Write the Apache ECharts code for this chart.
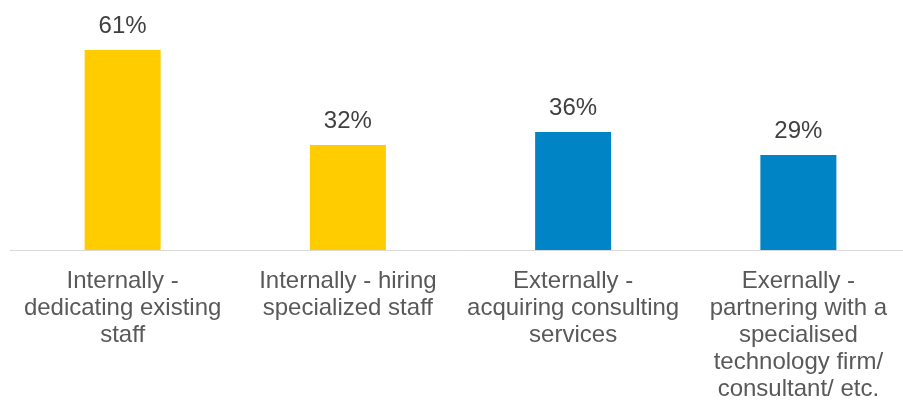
<!DOCTYPE html>
<html>
<head>
<meta charset="utf-8">
<script src="https://cdn.jsdelivr.net/npm/echarts@6/dist/echarts.min.js"></script>
<style>
  html, body { margin: 0; padding: 0; background: #ffffff; }
  #chart { width: 903px; height: 405px; }
</style>
</head>
<body>
<div id="chart"></div>
<script>
// Survey categories (line breaks as shown under each bar)
const categories = [
  'Internally -\ndedicating existing\nstaff',
  'Internally - hiring\nspecialized staff',
  'Externally -\nacquiring consulting\nservices',
  'Exernally -\npartnering with a\nspecialised\ntechnology firm/\nconsultant/ etc.'
];
// Share of respondents, percent
const values = [61, 32, 36, 29];
// Internal options in yellow, external in blue
const barColors = ['#FFCC00', '#FFCC00', '#0084C6', '#0084C6'];

const chart = echarts.init(document.getElementById('chart'));
chart.setOption({
  animation: false,
  grid: {
    left: 10, top: 20.5, width: 901, height: 229.5,
    containLabel: false,
    outerBoundsMode: 'none'
  },
  xAxis: {
    type: 'category',
    data: categories,
    axisLine: { show: true, lineStyle: { color: '#D9D9D9', width: 1 } },
    axisTick: { show: false },
    axisLabel: {
      interval: 0,
      color: '#595959',
      fontFamily: 'Liberation Sans, Arial, sans-serif',
      fontSize: 24,
      lineHeight: 27,
      margin: 18
    }
  },
  yAxis: {
    type: 'value',
    min: 0,
    max: 70,
    show: false
  },
  series: [{
    type: 'bar',
    barWidth: 76,
    data: values.map((v, i) => ({ value: v, itemStyle: { color: barColors[i] } })),
    label: {
      show: true,
      position: 'top',
      distance: 12,
      formatter: '{c}%',
      color: '#404040',
      fontFamily: 'Liberation Sans, Arial, sans-serif',
      fontSize: 24
    }
  }]
});
</script>
</body>
</html>
